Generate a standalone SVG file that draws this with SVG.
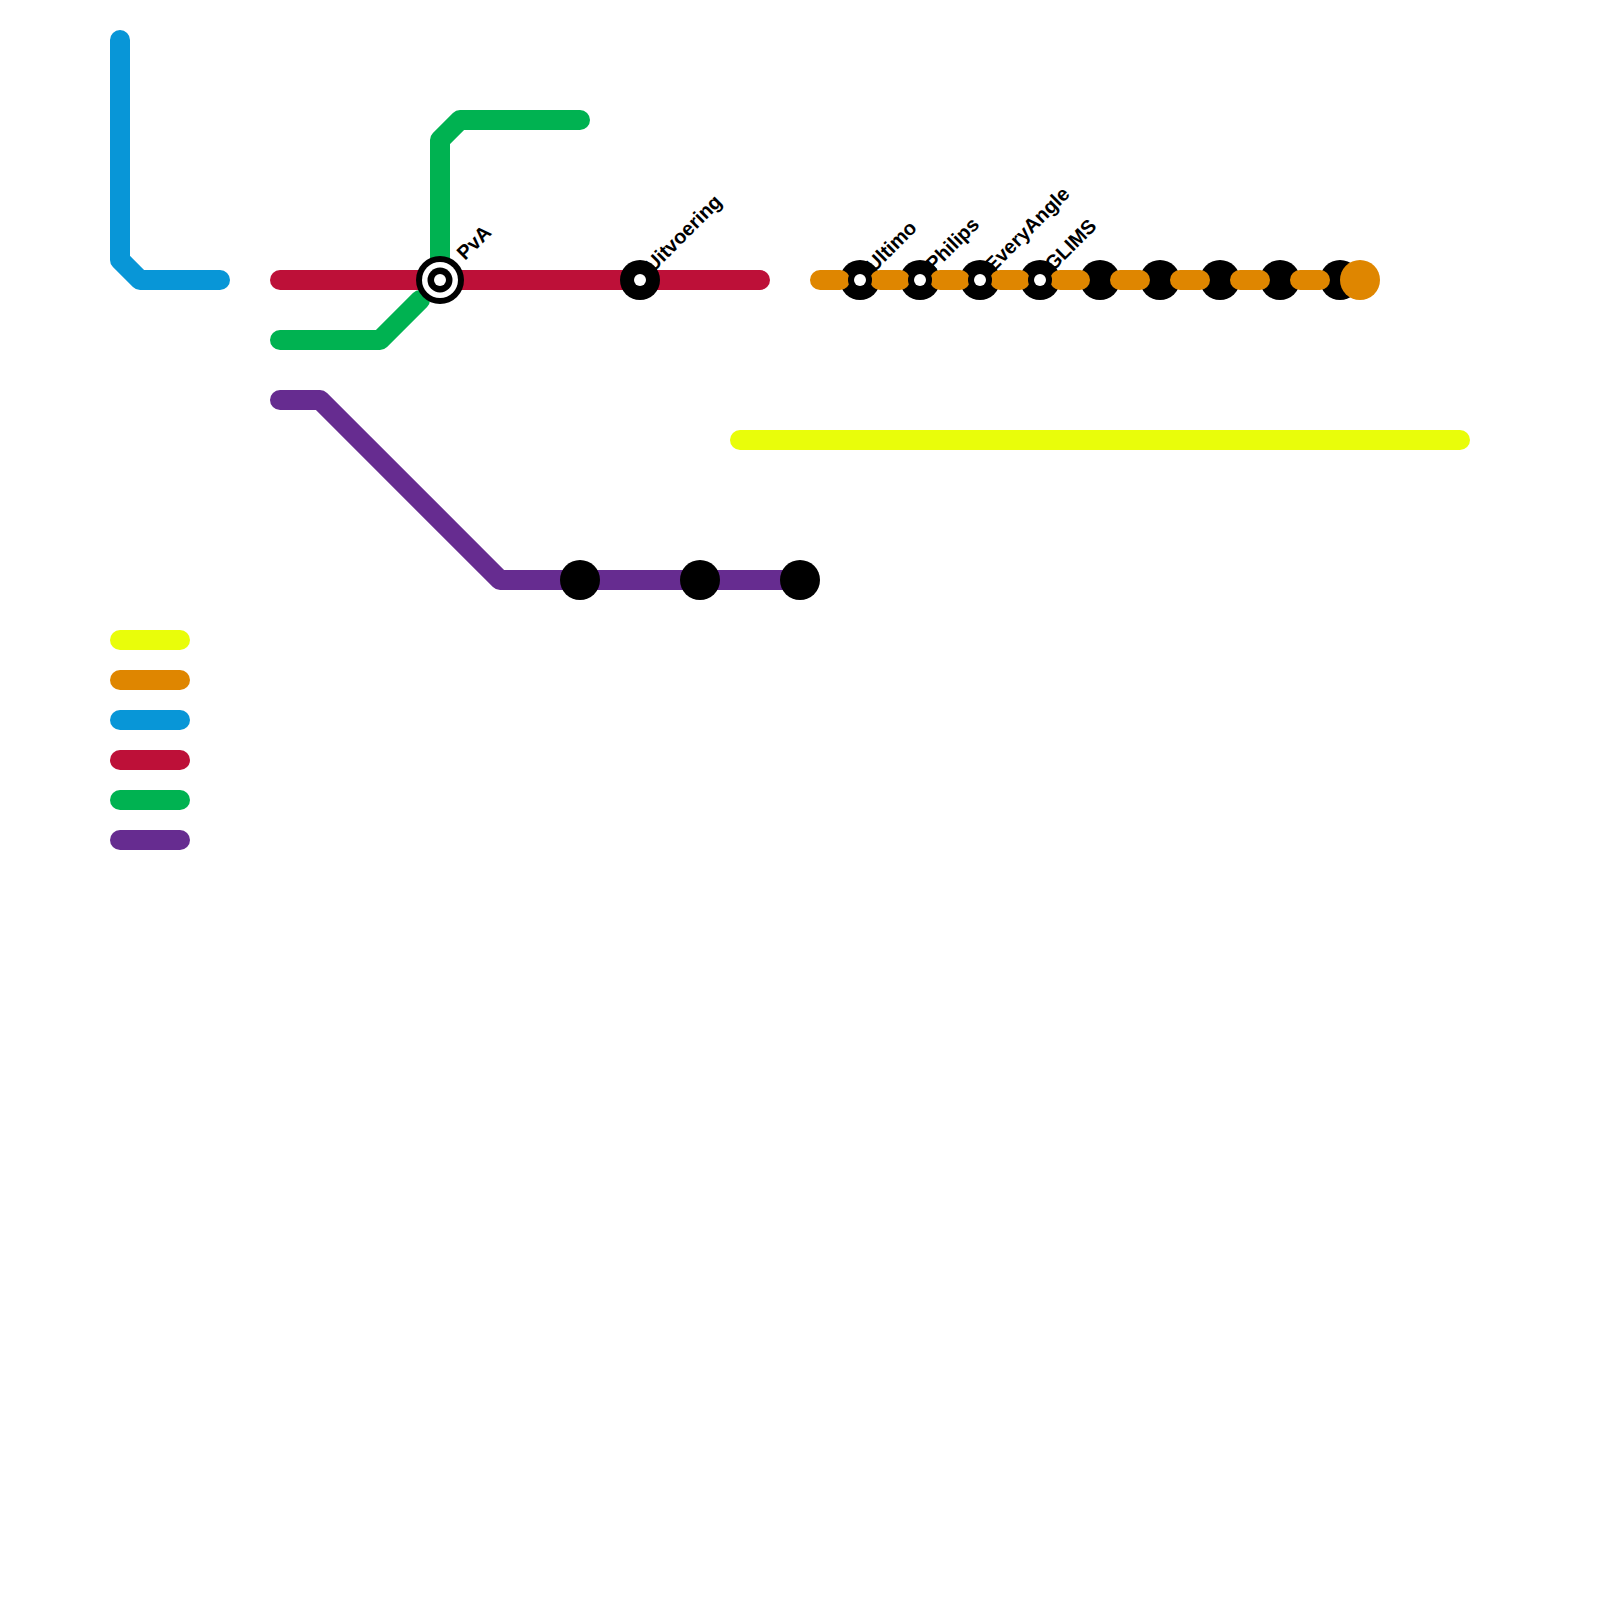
<svg xmlns="http://www.w3.org/2000/svg" width="1600" height="1600" viewBox="0 0 1600 1600">
<style>
.l{fill:none;stroke-width:20;stroke-linecap:round;stroke-linejoin:round}
.b{fill:#000}.w{fill:#fff}
.t{font-family:"Liberation Sans",Arial,sans-serif;font-size:20px;font-weight:bold;fill:#000}
</style>
<rect width="1600" height="1600" fill="#fff"/>
<g id="connectors">
<path class="l" stroke="#e9fd0a" d="M740 440H1460"/>
<path class="l" stroke="#0896d7" d="M120 40V260L140 280H220"/>
<path class="l" stroke="#00b251" d="M580 120H460L440 140V260M420 300L380 340H280"/>
<path class="l" stroke="#bd1038" d="M280 280H760"/>
<path class="l" stroke="#662c90" d="M280 400H320L500 580H800"/>
<path class="l" stroke="#e9fd0a" d="M120 640H180"/>
<path class="l" stroke="#df8600" d="M120 680H180"/>
<path class="l" stroke="#0896d7" d="M120 720H180"/>
<path class="l" stroke="#bd1038" d="M120 760H180"/>
<path class="l" stroke="#00b251" d="M120 800H180"/>
<path class="l" stroke="#662c90" d="M120 840H180"/>
</g>
<g id="stop-580"><circle class="b" cx="580" cy="580" r="20"/></g>
<g id="stop-700"><circle class="b" cx="700" cy="580" r="20"/></g>
<g id="stop-800"><circle class="b" cx="800" cy="580" r="20"/></g>
<g id="stop-640"><circle class="b" cx="640" cy="280" r="20"/><circle class="w" cx="640" cy="280" r="6"/><text class="t" transform="translate(653 273) rotate(-45)">Uitvoering</text></g>
<g id="stop-440"><circle class="b" cx="440" cy="280" r="24"/><circle class="w" cx="440" cy="280" r="18"/><circle class="b" cx="440" cy="280" r="12.5"/><circle class="w" cx="440" cy="280" r="6"/><text class="t" transform="translate(465 261) rotate(-45)">PvA</text></g>
<g id="black-stops">
<circle class="b" cx="860" cy="280" r="20"/><circle class="b" cx="920" cy="280" r="20"/><circle class="b" cx="980" cy="280" r="20"/><circle class="b" cx="1040" cy="280" r="20"/><circle class="b" cx="1100" cy="280" r="20"/><circle class="b" cx="1160" cy="280" r="20"/><circle class="b" cx="1220" cy="280" r="20"/><circle class="b" cx="1280" cy="280" r="20"/><circle class="b" cx="1340" cy="280" r="20"/>
</g>
<g id="orange-dashes">
<path class="l" stroke="#df8600" d="M820 280H840M880 280H900M940 280H960M1000 280H1020M1060 280H1080M1120 280H1140M1180 280H1200M1240 280H1260M1300 280H1320"/>
<circle cx="1360" cy="280" r="20" fill="#df8600"/>
</g>
<g id="stop-860"><circle class="b" cx="860" cy="280" r="12"/><circle class="w" cx="860" cy="280" r="6"/><text class="t" transform="translate(874 273) rotate(-45)">Ultimo</text></g>
<g id="stop-920"><circle class="b" cx="920" cy="280" r="12"/><circle class="w" cx="920" cy="280" r="6"/><text class="t" transform="translate(934 272) rotate(-45)">Philips</text></g>
<g id="stop-980"><circle class="b" cx="980" cy="280" r="12"/><circle class="w" cx="980" cy="280" r="6"/><text class="t" transform="translate(993 273) rotate(-45)">EveryAngle</text></g>
<g id="stop-1040"><circle class="b" cx="1040" cy="280" r="12"/><circle class="w" cx="1040" cy="280" r="6"/><text class="t" transform="translate(1053 272) rotate(-45)">GLIMS</text></g>
</svg>
